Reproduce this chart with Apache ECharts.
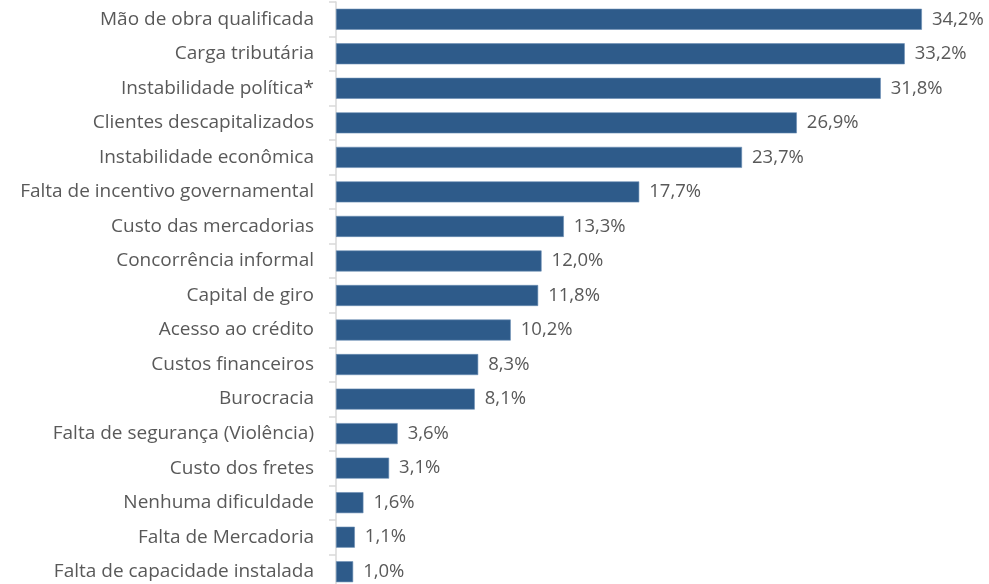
<!DOCTYPE html>
<html>
<head>
<meta charset="utf-8">
<script src="https://cdn.jsdelivr.net/npm/echarts@6/dist/echarts.min.js"></script>
<style>
  html, body { margin: 0; padding: 0; background: #fff; }
  #chart { width: 989px; height: 584px; }
</style>
</head>
<body>
<div id="chart"></div>
<script>
const categories = [
  'Mão de obra qualificada',
  'Carga tributária',
  'Instabilidade política*',
  'Clientes descapitalizados',
  'Instabilidade econômica',
  'Falta de incentivo governamental',
  'Custo das mercadorias',
  'Concorrência informal',
  'Capital de giro',
  'Acesso ao crédito',
  'Custos financeiros',
  'Burocracia',
  'Falta de segurança (Violência)',
  'Custo dos fretes',
  'Nenhuma dificuldade',
  'Falta de Mercadoria',
  'Falta de capacidade instalada'
]
const values = [34.2, 33.2, 31.8, 26.9, 23.7, 17.7, 13.3, 12.0, 11.8, 10.2, 8.3, 8.1, 3.6, 3.1, 1.6, 1.1, 1.0]

const chart = echarts.init(document.getElementById('chart'))

const option = {
  animation: false,
  textStyle: { fontFamily: 'Open Sans' },
  grid: { left: 336, right: 2, top: 2, height: 587, containLabel: false, outerBoundsMode: 'none' },
  xAxis: {
    type: 'value',
    min: 0,
    max: 38,
    show: false
  },
  yAxis: {
    type: 'category',
    inverse: true,
    data: categories,
    axisLine: { show: true, lineStyle: { color: '#d9d9d9', width: 1.5 } },
    axisTick: { show: true, length: 7, lineStyle: { color: '#d9d9d9', width: 1.5 } },
    axisLabel: { color: '#595959', fontSize: 19, margin: 22 }
  },
  series: [
    {
      type: 'bar',
      data: values,
      barWidth: 21,
      itemStyle: { color: '#2e5b8a', borderColor: '#6a8db3', borderWidth: 0.6 },
      label: {
        show: true,
        position: 'right',
        distance: 10,
        color: '#595959',
        fontSize: 18.5,
        formatter: (p) => p.value.toFixed(1).replace('.', ',') + '%'
      }
    }
  ]
}

chart.setOption(option)
</script>
</body>
</html>
